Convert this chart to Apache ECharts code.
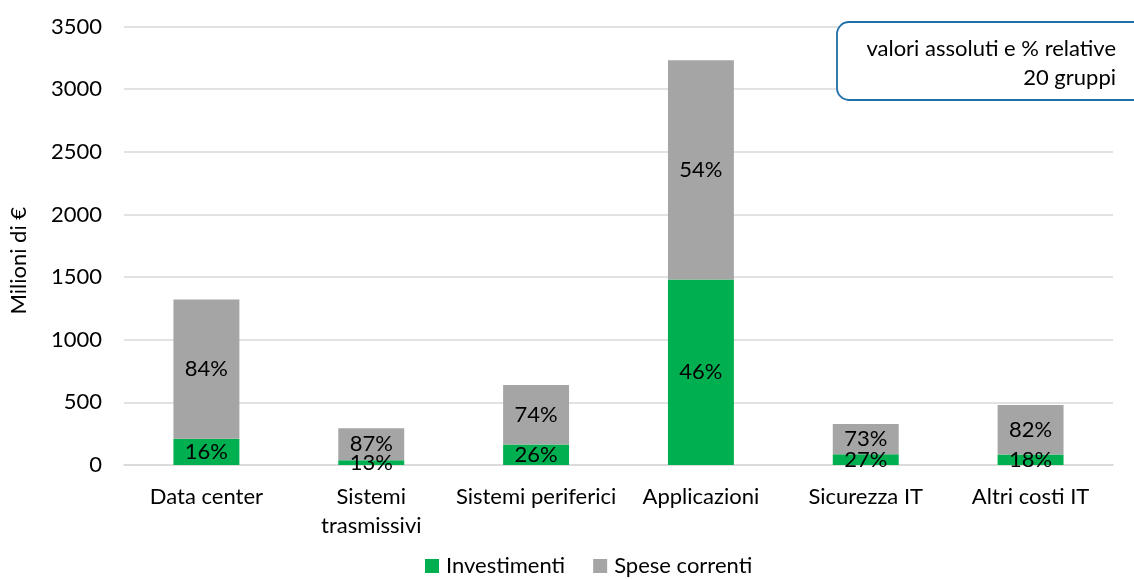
<!DOCTYPE html>
<html><head><meta charset="utf-8">
<script src="https://cdn.jsdelivr.net/npm/echarts@6/dist/echarts.min.js"></script>
<style>html,body{margin:0;padding:0;background:#fff}#c{width:1134px;height:579px}</style>
</head><body><div id="c"></div>
<script>
const categories = ["Data center", "Sistemi\ntrasmissivi", "Sistemi periferici", "Applicazioni", "Sicurezza IT", "Altri costi IT"];
const investimenti = [210, 38, 164, 1481, 86, 84];
const speseCorrenti = [1111, 255, 474, 1749, 241, 394];
const investPct = ["16%", "13%", "26%", "46%", "27%", "18%"];
const spesePct = ["84%", "87%", "74%", "54%", "73%", "82%"];
const yTicks = [0, 500, 1000, 1500, 2000, 2500, 3000, 3500];

const FONT = "Lato";
const FS = 22;
const chart = echarts.init(document.getElementById('c'));
chart.setOption({
  animation: false,
  textStyle: {fontFamily: FONT},
  grid: {left: 120.5, right: 21, top: 26.5, bottom: 114},
  legend: {
    top: 550, left: 420, itemWidth: 14, itemHeight: 14, itemGap: 28,
    icon: 'rect',
    textStyle: {fontFamily: FONT, fontSize: FS, color: '#000', padding: [0, 0, 0, 2]},
    data: ['Investimenti', 'Spese correnti']
  },
  xAxis: {
    type: 'category', data: categories,
    axisLine: {lineStyle: {color: '#D9D9D9', width: 1.5}},
    axisTick: {show: false},
    axisLabel: {fontFamily: FONT, fontSize: FS, color: '#000', margin: 17, lineHeight: 29, interval: 0}
  },
  yAxis: {
    type: 'value', min: yTicks[0], max: yTicks[yTicks.length - 1], interval: 500,
    name: 'Milioni di €', nameLocation: 'middle', nameGap: 94, nameRotate: 90,
    nameTextStyle: {fontFamily: FONT, fontSize: FS, color: '#000', padding: [0, 0, 0, -30]},
    axisLine: {show: false}, axisTick: {show: false},
    axisLabel: {fontFamily: FONT, fontSize: FS, color: '#000', margin: 22, formatter: v => String(v)},
    splitLine: {lineStyle: {color: '#D9D9D9', width: 1.5}}
  },
  series: [
    {
      name: 'Investimenti', type: 'bar', stack: 't', barWidth: '40%',
      itemStyle: {color: '#00B050'},
      data: investimenti,
      label: {show: true, position: 'inside', fontFamily: FONT, fontSize: FS, color: '#000',
        formatter: p => investPct[p.dataIndex]}
    },
    {
      name: 'Spese correnti', type: 'bar', stack: 't', barWidth: '40%',
      itemStyle: {color: '#A5A5A5'},
      data: speseCorrenti,
      label: {show: true, position: 'inside', fontFamily: FONT, fontSize: FS, color: '#000',
        formatter: p => spesePct[p.dataIndex]}
    }
  ],
  graphic: [
    {type: 'rect', x: 837, y: 22, z: 100,
      shape: {width: 310, height: 78, r: 12},
      style: {fill: '#fff', stroke: '#1F6FA8', lineWidth: 1.8}},
    {type: 'text', x: 1116, y: 34, z: 101,
      style: {text: 'valori assoluti e % relative\n20 gruppi', fontFamily: FONT, fontSize: FS,
        fill: '#000', align: 'right', verticalAlign: 'top', lineHeight: 29}}
  ]
});
</script></body></html>
